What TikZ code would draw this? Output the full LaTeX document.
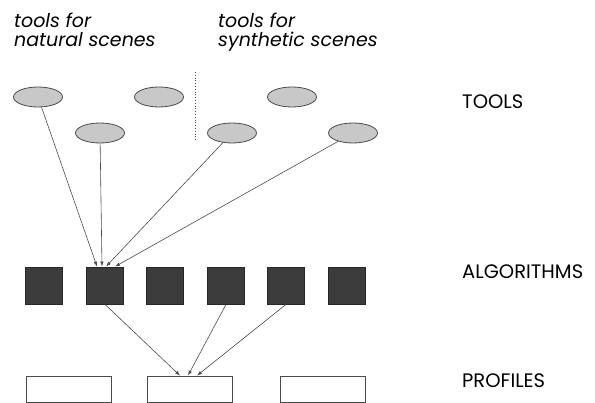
\documentclass[tikz,border=0pt]{standalone}
\usepackage{fontspec}
\setmainfont{Poppins}
\usepackage{xcolor}
\usetikzlibrary{arrows.meta, positioning, calc, shapes.geometric}

\definecolor{toolgray}{HTML}{C8C8C8}
\definecolor{algogray}{HTML}{3C3C3C}
\definecolor{linegray}{HTML}{4A4A4A}

\tikzset{
    tool/.style={draw=linegray, ellipse, fill=toolgray, inner sep=0pt,
        minimum width=49pt, minimum height=20pt, line width=0.8pt},
    algo/.style={draw=black!85, fill=algogray, inner sep=0pt,
        minimum width=37pt, minimum height=37pt, line width=0.8pt},
    profile/.style={draw=linegray, fill=white, inner sep=0pt,
        minimum width=85pt, minimum height=26pt, line width=0.8pt},
    level/.style={anchor=base west, inner sep=0pt, font=\fontsize{19.5}{21}\selectfont},
    group/.style={anchor=north west, inner sep=0pt, align=left,
        font=\fontsize{19}{19.5}\selectfont\itshape},
    link/.style={-{Latex[length=5pt, width=3.5pt]}, draw=linegray, line width=0.6pt}
}

\begin{document}
\begin{tikzpicture}[x=1pt, y=-1pt]
    \useasboundingbox (0,0) rectangle (595,403);

    % Group headings
    \node[group] (natural) at (14,12.5) {tools for\\natural scenes};
    \node[group] (synthetic) at (218,12.5) {tools for\\synthetic scenes};
    \draw[dotted, linegray, line width=0.8pt] (195,72) -- (195,142);

    % Tools
    \node[tool] (T1) at (38,97) {};
    \node[tool] (T2) at (159,97) {};
    \node[tool] (T3) at (100,133) {};
    \node[tool] (T4) at (292,97) {};
    \node[tool] (T5) at (232,133) {};
    \node[tool] (T6) at (353,133) {};

    % Algorithms
    \foreach \i/\x in {1/44, 2/105, 3/165, 4/226, 5/286, 6/347} {
        \node[algo] (A\i) at (\x,285.5) {};
    }

    % Profiles
    \foreach \i/\x in {1/68.5, 2/189.5, 3/322.5} {
        \node[profile] (P\i) at (\x,389) {};
    }

    % Levels
    \node[level] (tools) at (462,108.5) {TOOLS};
    \node[level] (algorithms) at (462,279) {ALGORITHMS};
    \node[level] (profiles) at (462,388) {PROFILES};

    % Tools used by an algorithm
    \draw[link] (T1) -- ([xshift=-8pt]A2.north);
    \draw[link] (T3) -- ([xshift=-3pt]A2.north);
    \draw[link] (T5) -- ([xshift=1pt]A2.north);
    \draw[link] (T6) -- ([xshift=10pt]A2.north);

    % Algorithms producing a profile
    \draw[link] (A2.south) -- ([xshift=-9.5pt]P2.north);
    \draw[link] (A4.south) -- ([xshift=-1.5pt]P2.north);
    \draw[link] (A5.south) -- ([xshift=7.5pt]P2.north);
\end{tikzpicture}
\end{document}
